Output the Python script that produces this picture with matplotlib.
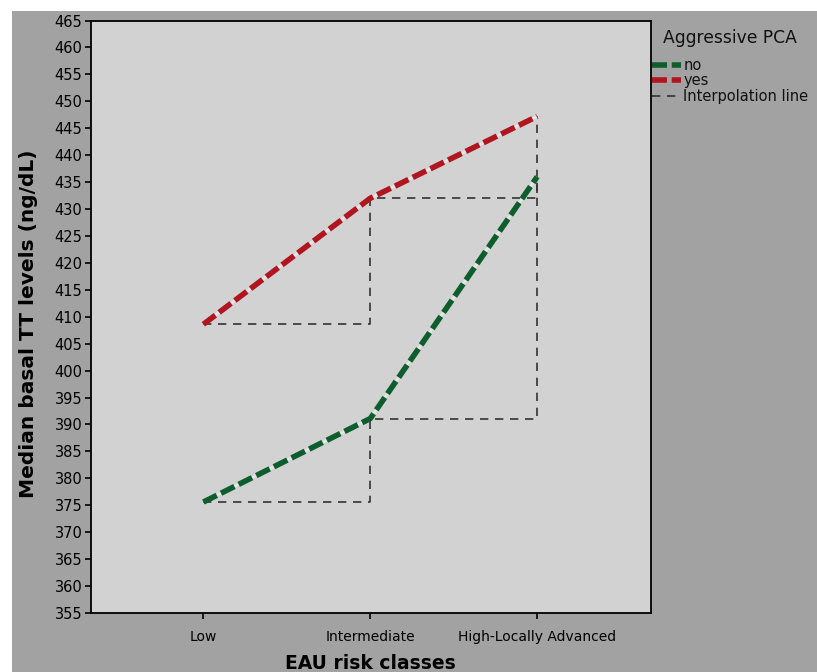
import matplotlib
matplotlib.use("Agg")
import matplotlib.pyplot as plt
from matplotlib.lines import Line2D
from matplotlib.patches import Rectangle

categories = ["Low", "Intermediate", "High-Locally Advanced"]
no_vals = [375.6, 391.1, 436.0]
yes_vals = [408.6, 432.0, 447.2]
y_ticks = list(range(355, 466, 5))

plt.rcParams['font.family'] = ['DejaVu Sans']

W, H = 817, 672
fig = plt.figure(figsize=(W / 100, H / 100), dpi=100, facecolor="white")
outer_gray = "#a2a2a2"
fig.patches.append(Rectangle((12 / W, 0), 1 - 12 / W, 1 - 11 / H,
                             transform=fig.transFigure, facecolor=outer_gray,
                             edgecolor="none", zorder=-10))

ax = fig.add_axes([90.7 / W, (H - 613) / H, (650.7 - 90.7) / W, (613 - 20.5) / H])
ax.set_facecolor("#d2d2d2")

x = list(range(len(categories)))
green = "#0d5e2c"
red = "#b01520"
interp_color = "#333333"
main_dash = (0, (2.7, 0.85))
interp_dash = (0, (5.0, 4.0))

# interpolation step lines
for vals in (no_vals, yes_vals):
    ax.step(x, vals, where="post", color=interp_color, lw=1.2,
            linestyle=interp_dash, zorder=2)

for vals, col in ((no_vals, green), (yes_vals, red)):
    ax.plot(x, vals, color="#e6e6e6", lw=2.0, zorder=3, solid_capstyle="butt")
    ax.plot(x, vals, color=col, lw=4.0, linestyle=main_dash,
            zorder=4, dash_capstyle="butt")

ax.set_xlim(-0.675, 2.68)
ax.set_ylim(355, 465)
ax.set_yticks(y_ticks)
ax.set_yticklabels([str(v) for v in y_ticks])
ax.set_xticks(x)
ax.set_xticklabels(categories)
ax.tick_params(axis="both", direction="out", length=4.5, width=1.2,
               colors="black", labelsize=10)
ax.tick_params(axis="y", pad=1.5, labelsize=10.5)
ax.tick_params(axis="x", pad=7.5)
for s in ax.spines.values():
    s.set_color("black")
    s.set_linewidth(1.3)

ax.set_ylabel("Median basal TT levels (ng/dL)", fontsize=14.5, fontweight="bold")
ax.yaxis.set_label_coords(-52.7 / 560, 0.488)
ax.set_xlabel("EAU risk classes", fontsize=13.5, fontweight="bold", labelpad=7.5)

fig.text(663 / W, 1 - 38 / H, "Aggressive PCA", fontsize=12.3,
         ha="left", va="center", color="#111111")
handles = [
    Line2D([0], [0], color=green, lw=4.0, linestyle=main_dash),
    Line2D([0], [0], color=red, lw=4.0, linestyle=main_dash),
    Line2D([0], [0], color=interp_color, lw=1.2, linestyle=interp_dash),
]
leg = fig.legend(handles, ["no", "yes", "Interpolation line"],
                 loc="upper left",
                 bbox_to_anchor=(652 / W, 1 - 58 / H), frameon=False,
                 fontsize=10.5, handlelength=2.0,
                 handletextpad=0.15, labelspacing=0.03, borderaxespad=0,
                 borderpad=0)
for t in leg.get_texts():
    t.set_color("#111111")

fig.savefig("out.png", dpi=100, facecolor=fig.get_facecolor())
